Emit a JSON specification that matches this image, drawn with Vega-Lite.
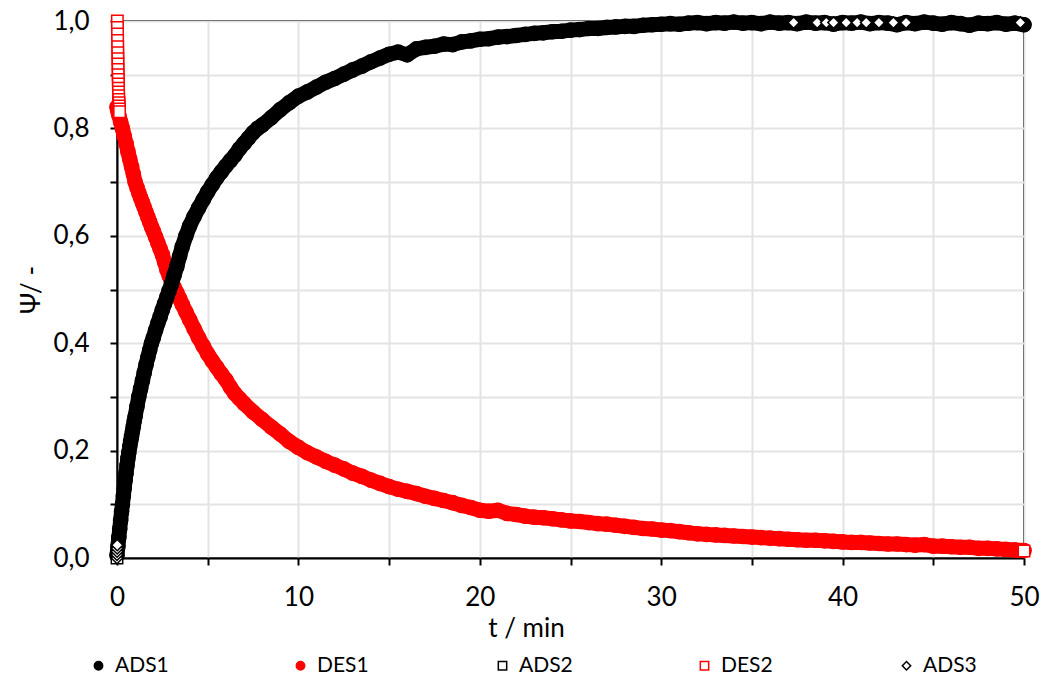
{
  "$schema": "https://vega.github.io/schema/vega-lite/v6.json",
  "width": 907,
  "height": 537,
  "autosize": {"type": "none"},
  "padding": {"left": 117, "top": 21, "right": 20, "bottom": 123},
  "background": "white",
  "datasets": {
    "des1": [
      {"series":"DES1","t":0,"psi":0.84},{"series":"DES1","t":0.05,"psi":0.832},{"series":"DES1","t":0.1,"psi":0.825},{"series":"DES1","t":0.2,"psi":0.812},{"series":"DES1","t":0.3,"psi":0.8},{"series":"DES1","t":0.4,"psi":0.786},{"series":"DES1","t":0.5,"psi":0.772},{"series":"DES1","t":0.6,"psi":0.757},{"series":"DES1","t":0.7,"psi":0.743},{"series":"DES1","t":0.8,"psi":0.729},{"series":"DES1","t":0.9,"psi":0.715},{"series":"DES1","t":1.0,"psi":0.7},{"series":"DES1","t":1.1,"psi":0.69},{"series":"DES1","t":1.2,"psi":0.68},{"series":"DES1","t":1.3,"psi":0.671},{"series":"DES1","t":1.4,"psi":0.662},{"series":"DES1","t":1.5,"psi":0.653},{"series":"DES1","t":1.6,"psi":0.644},{"series":"DES1","t":1.7,"psi":0.635},{"series":"DES1","t":1.8,"psi":0.626},{"series":"DES1","t":1.9,"psi":0.617},{"series":"DES1","t":2.0,"psi":0.609},{"series":"DES1","t":2.125,"psi":0.598},{"series":"DES1","t":2.25,"psi":0.587},{"series":"DES1","t":2.375,"psi":0.576},{"series":"DES1","t":2.5,"psi":0.565},{"series":"DES1","t":2.625,"psi":0.551},{"series":"DES1","t":2.75,"psi":0.537},{"series":"DES1","t":2.875,"psi":0.526},{"series":"DES1","t":3.0,"psi":0.515},{"series":"DES1","t":3.15,"psi":0.504},{"series":"DES1","t":3.3,"psi":0.494},{"series":"DES1","t":3.45,"psi":0.483},{"series":"DES1","t":3.6,"psi":0.472},{"series":"DES1","t":3.8,"psi":0.458},{"series":"DES1","t":4.0,"psi":0.444},{"series":"DES1","t":4.25,"psi":0.427},{"series":"DES1","t":4.5,"psi":0.41},{"series":"DES1","t":4.75,"psi":0.395},{"series":"DES1","t":5.0,"psi":0.38},{"series":"DES1","t":5.25,"psi":0.367},{"series":"DES1","t":5.5,"psi":0.355},{"series":"DES1","t":5.75,"psi":0.343},{"series":"DES1","t":6.0,"psi":0.332},{"series":"DES1","t":6.25,"psi":0.318},{"series":"DES1","t":6.5,"psi":0.306},{"series":"DES1","t":6.75,"psi":0.297},{"series":"DES1","t":7.0,"psi":0.288},{"series":"DES1","t":7.5,"psi":0.272},{"series":"DES1","t":8.0,"psi":0.258},{"series":"DES1","t":8.5,"psi":0.244},{"series":"DES1","t":9.0,"psi":0.231},{"series":"DES1","t":9.5,"psi":0.217},{"series":"DES1","t":10,"psi":0.206},{"series":"DES1","t":10.5,"psi":0.196},{"series":"DES1","t":11,"psi":0.188},{"series":"DES1","t":11.5,"psi":0.18},{"series":"DES1","t":12,"psi":0.173},{"series":"DES1","t":12.5,"psi":0.166},{"series":"DES1","t":13,"psi":0.158},{"series":"DES1","t":13.5,"psi":0.152},{"series":"DES1","t":14,"psi":0.145},{"series":"DES1","t":14.5,"psi":0.139},{"series":"DES1","t":15,"psi":0.133},{"series":"DES1","t":15.5,"psi":0.128},{"series":"DES1","t":16,"psi":0.124},{"series":"DES1","t":16.5,"psi":0.12},{"series":"DES1","t":17,"psi":0.115},{"series":"DES1","t":17.5,"psi":0.111},{"series":"DES1","t":18,"psi":0.107},{"series":"DES1","t":18.5,"psi":0.103},{"series":"DES1","t":19,"psi":0.098},{"series":"DES1","t":19.5,"psi":0.094},{"series":"DES1","t":20,"psi":0.089},{"series":"DES1","t":20.5,"psi":0.087},{"series":"DES1","t":21,"psi":0.089},{"series":"DES1","t":21.5,"psi":0.083},{"series":"DES1","t":22,"psi":0.081},{"series":"DES1","t":22.5,"psi":0.078},{"series":"DES1","t":23,"psi":0.076},{"series":"DES1","t":23.5,"psi":0.075},{"series":"DES1","t":24,"psi":0.073},{"series":"DES1","t":24.5,"psi":0.071},{"series":"DES1","t":25,"psi":0.069},{"series":"DES1","t":25.5,"psi":0.068},{"series":"DES1","t":26,"psi":0.066},{"series":"DES1","t":26.5,"psi":0.064},{"series":"DES1","t":27,"psi":0.063},{"series":"DES1","t":27.5,"psi":0.061},{"series":"DES1","t":28,"psi":0.059},{"series":"DES1","t":28.5,"psi":0.057},{"series":"DES1","t":29,"psi":0.055},{"series":"DES1","t":29.5,"psi":0.054},{"series":"DES1","t":30,"psi":0.052},{"series":"DES1","t":30.5,"psi":0.051},{"series":"DES1","t":31,"psi":0.049},{"series":"DES1","t":31.5,"psi":0.047},{"series":"DES1","t":32,"psi":0.045},{"series":"DES1","t":32.5,"psi":0.044},{"series":"DES1","t":33,"psi":0.043},{"series":"DES1","t":33.5,"psi":0.042},{"series":"DES1","t":34,"psi":0.041},{"series":"DES1","t":34.5,"psi":0.04},{"series":"DES1","t":35,"psi":0.039},{"series":"DES1","t":35.5,"psi":0.038},{"series":"DES1","t":36,"psi":0.037},{"series":"DES1","t":36.5,"psi":0.036},{"series":"DES1","t":37,"psi":0.035},{"series":"DES1","t":37.5,"psi":0.034},{"series":"DES1","t":38,"psi":0.033},{"series":"DES1","t":38.5,"psi":0.033},{"series":"DES1","t":39,"psi":0.032},{"series":"DES1","t":39.5,"psi":0.031},{"series":"DES1","t":40,"psi":0.03},{"series":"DES1","t":40.5,"psi":0.029},{"series":"DES1","t":41,"psi":0.029},{"series":"DES1","t":41.5,"psi":0.028},{"series":"DES1","t":42,"psi":0.027},{"series":"DES1","t":42.5,"psi":0.026},{"series":"DES1","t":43,"psi":0.026},{"series":"DES1","t":43.5,"psi":0.025},{"series":"DES1","t":44,"psi":0.024},{"series":"DES1","t":44.5,"psi":0.025},{"series":"DES1","t":45,"psi":0.022},{"series":"DES1","t":45.5,"psi":0.022},{"series":"DES1","t":46,"psi":0.021},{"series":"DES1","t":46.5,"psi":0.02},{"series":"DES1","t":47,"psi":0.02},{"series":"DES1","t":47.5,"psi":0.018},{"series":"DES1","t":48,"psi":0.018},{"series":"DES1","t":48.5,"psi":0.017},{"series":"DES1","t":49,"psi":0.016},{"series":"DES1","t":49.5,"psi":0.015},{"series":"DES1","t":50,"psi":0.014}
    ],
    "others": [
      {"series":"ADS1","t":0,"psi":0.005},{"series":"ADS1","t":0.05,"psi":0.022},{"series":"ADS1","t":0.1,"psi":0.038},{"series":"ADS1","t":0.15,"psi":0.054},{"series":"ADS1","t":0.2,"psi":0.07},{"series":"ADS1","t":0.25,"psi":0.086},{"series":"ADS1","t":0.3,"psi":0.1},{"series":"ADS1","t":0.35,"psi":0.116},{"series":"ADS1","t":0.4,"psi":0.13},{"series":"ADS1","t":0.45,"psi":0.145},{"series":"ADS1","t":0.5,"psi":0.158},{"series":"ADS1","t":0.55,"psi":0.172},{"series":"ADS1","t":0.6,"psi":0.185},{"series":"ADS1","t":0.65,"psi":0.196},{"series":"ADS1","t":0.7,"psi":0.207},{"series":"ADS1","t":0.75,"psi":0.217},{"series":"ADS1","t":0.8,"psi":0.226},{"series":"ADS1","t":0.85,"psi":0.236},{"series":"ADS1","t":0.9,"psi":0.245},{"series":"ADS1","t":0.95,"psi":0.255},{"series":"ADS1","t":1.0,"psi":0.264},{"series":"ADS1","t":1.1,"psi":0.282},{"series":"ADS1","t":1.2,"psi":0.3},{"series":"ADS1","t":1.3,"psi":0.315},{"series":"ADS1","t":1.4,"psi":0.33},{"series":"ADS1","t":1.5,"psi":0.345},{"series":"ADS1","t":1.6,"psi":0.36},{"series":"ADS1","t":1.7,"psi":0.374},{"series":"ADS1","t":1.8,"psi":0.387},{"series":"ADS1","t":1.9,"psi":0.4},{"series":"ADS1","t":2.0,"psi":0.41},{"series":"ADS1","t":2.125,"psi":0.424},{"series":"ADS1","t":2.25,"psi":0.437},{"series":"ADS1","t":2.375,"psi":0.449},{"series":"ADS1","t":2.5,"psi":0.462},{"series":"ADS1","t":2.625,"psi":0.474},{"series":"ADS1","t":2.75,"psi":0.486},{"series":"ADS1","t":2.875,"psi":0.498},{"series":"ADS1","t":3.0,"psi":0.51},{"series":"ADS1","t":3.15,"psi":0.527},{"series":"ADS1","t":3.3,"psi":0.543},{"series":"ADS1","t":3.45,"psi":0.562},{"series":"ADS1","t":3.6,"psi":0.58},{"series":"ADS1","t":3.8,"psi":0.6},{"series":"ADS1","t":4.0,"psi":0.618},{"series":"ADS1","t":4.25,"psi":0.636},{"series":"ADS1","t":4.5,"psi":0.652},{"series":"ADS1","t":4.75,"psi":0.667},{"series":"ADS1","t":5.0,"psi":0.682},{"series":"ADS1","t":5.25,"psi":0.695},{"series":"ADS1","t":5.5,"psi":0.708},{"series":"ADS1","t":5.75,"psi":0.719},{"series":"ADS1","t":6.0,"psi":0.73},{"series":"ADS1","t":6.25,"psi":0.74},{"series":"ADS1","t":6.5,"psi":0.75},{"series":"ADS1","t":6.75,"psi":0.762},{"series":"ADS1","t":7.0,"psi":0.772},{"series":"ADS1","t":7.25,"psi":0.782},{"series":"ADS1","t":7.5,"psi":0.792},{"series":"ADS1","t":7.75,"psi":0.8},{"series":"ADS1","t":8.0,"psi":0.806},{"series":"ADS1","t":8.5,"psi":0.82},{"series":"ADS1","t":9.0,"psi":0.835},{"series":"ADS1","t":9.5,"psi":0.848},{"series":"ADS1","t":10,"psi":0.86},{"series":"ADS1","t":10.5,"psi":0.868},{"series":"ADS1","t":11,"psi":0.877},{"series":"ADS1","t":11.5,"psi":0.886},{"series":"ADS1","t":12,"psi":0.893},{"series":"ADS1","t":12.5,"psi":0.901},{"series":"ADS1","t":13,"psi":0.909},{"series":"ADS1","t":13.5,"psi":0.916},{"series":"ADS1","t":14,"psi":0.924},{"series":"ADS1","t":14.5,"psi":0.931},{"series":"ADS1","t":15,"psi":0.938},{"series":"ADS1","t":15.5,"psi":0.942},{"series":"ADS1","t":16,"psi":0.937},{"series":"ADS1","t":16.5,"psi":0.948},{"series":"ADS1","t":17,"psi":0.951},{"series":"ADS1","t":17.5,"psi":0.953},{"series":"ADS1","t":18,"psi":0.957},{"series":"ADS1","t":18.5,"psi":0.956},{"series":"ADS1","t":19,"psi":0.961},{"series":"ADS1","t":19.5,"psi":0.963},{"series":"ADS1","t":20,"psi":0.966},{"series":"ADS1","t":20.5,"psi":0.967},{"series":"ADS1","t":21,"psi":0.97},{"series":"ADS1","t":21.5,"psi":0.971},{"series":"ADS1","t":22,"psi":0.973},{"series":"ADS1","t":22.5,"psi":0.975},{"series":"ADS1","t":23,"psi":0.977},{"series":"ADS1","t":23.5,"psi":0.978},{"series":"ADS1","t":24,"psi":0.98},{"series":"ADS1","t":24.5,"psi":0.981},{"series":"ADS1","t":25,"psi":0.983},{"series":"ADS1","t":25.5,"psi":0.984},{"series":"ADS1","t":26,"psi":0.986},{"series":"ADS1","t":26.5,"psi":0.986},{"series":"ADS1","t":27,"psi":0.988},{"series":"ADS1","t":27.5,"psi":0.989},{"series":"ADS1","t":28,"psi":0.99},{"series":"ADS1","t":28.5,"psi":0.99},{"series":"ADS1","t":29,"psi":0.992},{"series":"ADS1","t":29.5,"psi":0.993},{"series":"ADS1","t":30,"psi":0.994},{"series":"ADS1","t":30.5,"psi":0.995},{"series":"ADS1","t":31,"psi":0.994},{"series":"ADS1","t":31.5,"psi":0.996},{"series":"ADS1","t":32,"psi":0.997},{"series":"ADS1","t":32.5,"psi":0.995},{"series":"ADS1","t":33,"psi":0.997},{"series":"ADS1","t":33.5,"psi":0.996},{"series":"ADS1","t":34,"psi":0.998},{"series":"ADS1","t":34.5,"psi":0.996},{"series":"ADS1","t":35,"psi":0.997},{"series":"ADS1","t":35.5,"psi":0.995},{"series":"ADS1","t":36,"psi":0.998},{"series":"ADS1","t":36.5,"psi":0.996},{"series":"ADS1","t":37,"psi":0.997},{"series":"ADS1","t":37.5,"psi":0.995},{"series":"ADS1","t":38,"psi":0.998},{"series":"ADS1","t":38.5,"psi":0.996},{"series":"ADS1","t":39,"psi":0.997},{"series":"ADS1","t":39.5,"psi":0.994},{"series":"ADS1","t":40,"psi":0.997},{"series":"ADS1","t":40.5,"psi":0.996},{"series":"ADS1","t":41,"psi":0.998},{"series":"ADS1","t":41.5,"psi":0.995},{"series":"ADS1","t":42,"psi":0.997},{"series":"ADS1","t":42.5,"psi":0.996},{"series":"ADS1","t":43,"psi":0.993},{"series":"ADS1","t":43.5,"psi":0.997},{"series":"ADS1","t":44,"psi":0.995},{"series":"ADS1","t":44.5,"psi":0.998},{"series":"ADS1","t":45,"psi":0.996},{"series":"ADS1","t":45.5,"psi":0.994},{"series":"ADS1","t":46,"psi":0.997},{"series":"ADS1","t":46.5,"psi":0.995},{"series":"ADS1","t":47,"psi":0.992},{"series":"ADS1","t":47.5,"psi":0.996},{"series":"ADS1","t":48,"psi":0.995},{"series":"ADS1","t":48.5,"psi":0.997},{"series":"ADS1","t":49,"psi":0.994},{"series":"ADS1","t":49.5,"psi":0.996},{"series":"ADS1","t":50,"psi":0.993},
      {"series":"ADS2","t":0,"psi":0.0},
      {"series":"DES2","t":0.02,"psi":1.0},{"series":"DES2","t":0.025,"psi":0.988},{"series":"DES2","t":0.03,"psi":0.976},{"series":"DES2","t":0.035,"psi":0.964},{"series":"DES2","t":0.04,"psi":0.952},{"series":"DES2","t":0.045,"psi":0.941},{"series":"DES2","t":0.05,"psi":0.93},{"series":"DES2","t":0.055,"psi":0.92},{"series":"DES2","t":0.06,"psi":0.91},{"series":"DES2","t":0.065,"psi":0.9},{"series":"DES2","t":0.07,"psi":0.891},{"series":"DES2","t":0.075,"psi":0.883},{"series":"DES2","t":0.08,"psi":0.875},{"series":"DES2","t":0.085,"psi":0.868},{"series":"DES2","t":0.09,"psi":0.861},{"series":"DES2","t":0.1,"psi":0.854},{"series":"DES2","t":0.11,"psi":0.848},{"series":"DES2","t":0.12,"psi":0.842},{"series":"DES2","t":0.13,"psi":0.836},{"series":"DES2","t":0.14,"psi":0.831},{"series":"DES2","t":50,"psi":0.013},
      {"series":"ADS3","t":0,"psi":0.0},{"series":"ADS3","t":0,"psi":0.006},{"series":"ADS3","t":0.005,"psi":0.012},{"series":"ADS3","t":0.01,"psi":0.018},{"series":"ADS3","t":0.015,"psi":0.024},
      {"series":"ADS3","t":37.3,"psi":0.997},{"series":"ADS3","t":38.6,"psi":0.997},{"series":"ADS3","t":39.1,"psi":0.997},{"series":"ADS3","t":39.5,"psi":0.997},{"series":"ADS3","t":40.2,"psi":0.997},{"series":"ADS3","t":40.8,"psi":0.997},{"series":"ADS3","t":41.3,"psi":0.997},{"series":"ADS3","t":42.0,"psi":0.997},{"series":"ADS3","t":42.8,"psi":0.997},{"series":"ADS3","t":43.5,"psi":0.997},{"series":"ADS3","t":49.8,"psi":0.997}
    ]
  },
  "encoding": {
    "x": {
      "field": "t", "type": "quantitative",
      "scale": {"domain": [0, 50], "nice": false, "zero": false},
      "axis": {
        "title": "t / min",
        "values": [0, 5, 10, 15, 20, 25, 30, 35, 40, 45, 50],
        "labelExpr": "datum.value % 10 == 0 ? datum.label : ''",
        "format": "d",
        "labelPadding": 19,
        "titleX": 409,
        "titleY": 70,
        "titleAlign": "center",
        "titleBaseline": "middle"
      }
    },
    "y": {
      "field": "psi", "type": "quantitative",
      "scale": {"domain": [0, 1], "nice": false},
      "axis": {
        "title": "Ψ/ -",
        "values": [0, 0.1, 0.2, 0.3, 0.4, 0.5, 0.6, 0.7, 0.8, 0.9, 1.0],
        "labelExpr": "round(datum.value * 10) % 2 == 0 ? replace(format(datum.value, '.1f'), '.', ',') : ''",
        "labelPadding": 21,
        "titlePadding": 8
      }
    }
  },
  "layer": [
    {
      "data": {"name": "des1"},
      "mark": {"type": "line", "color": "#ff0000", "strokeWidth": 15, "strokeCap": "round", "strokeJoin": "round"}
    },
    {
      "data": {"name": "des1"},
      "mark": {"type": "point", "filled": true, "opacity": 1, "size": 200, "strokeWidth": 1.5},
      "encoding": {
        "shape": {"field": "series", "type": "nominal",
          "scale": {"domain": ["ADS1", "DES1", "ADS2", "DES2", "ADS3"], "range": ["circle", "circle", "square", "square", "diamond"]},
          "legend": {"title": null, "orient": "none", "legendX": -29, "legendY": 634, "direction": "horizontal", "gridAlign": "all", "symbolSize": 70, "symbolStrokeWidth": 1.5, "labelFontSize": 21, "labelFont": "Lato", "labelColor": "black", "columnPadding": 121, "labelOffset": 6}},
        "fill": {"field": "series", "type": "nominal",
          "scale": {"domain": ["ADS1", "DES1", "ADS2", "DES2", "ADS3"], "range": ["#000000", "#ff0000", "#ffffff", "#ffffff", "#ffffff"]}},
        "stroke": {"field": "series", "type": "nominal",
          "scale": {"domain": ["ADS1", "DES1", "ADS2", "DES2", "ADS3"], "range": ["#000000", "#ff0000", "#000000", "#ff0000", "#000000"]}}
      }
    },
    {
      "data": {"name": "others"},
      "transform": [{"filter": "datum.series == 'ADS1'"}],
      "mark": {"type": "line", "color": "#000000", "strokeWidth": 15, "strokeCap": "round", "strokeJoin": "round"}
    },
    {
      "data": {"name": "others"},
      "mark": {"type": "point", "filled": true, "opacity": 1, "strokeWidth": 1.5},
      "encoding": {
        "size": {"condition": {"test": "datum.series == 'ADS1'", "value": 200}, "value": 130},
        "shape": {"field": "series", "type": "nominal",
          "scale": {"domain": ["ADS1", "DES1", "ADS2", "DES2", "ADS3"], "range": ["circle", "circle", "square", "square", "diamond"]}},
        "fill": {"field": "series", "type": "nominal",
          "scale": {"domain": ["ADS1", "DES1", "ADS2", "DES2", "ADS3"], "range": ["#000000", "#ff0000", "#ffffff", "#ffffff", "#ffffff"]}},
        "stroke": {"field": "series", "type": "nominal",
          "scale": {"domain": ["ADS1", "DES1", "ADS2", "DES2", "ADS3"], "range": ["#000000", "#ff0000", "#000000", "#ff0000", "#000000"]}}
      }
    }
  ],
  "config": {
    "font": "Lato",
    "view": {"stroke": "#000000", "strokeWidth": 2},
    "axis": {
      "labelFont": "Lato", "labelFontSize": 26, "labelColor": "#000000",
      "titleFont": "Lato", "titleFontSize": 26, "titleFontWeight": "normal", "titleColor": "#000000",
      "domainColor": "#000000", "domainWidth": 2,
      "tickColor": "#000000", "tickWidth": 2, "tickSize": 7,
      "gridColor": "#e3e3e3", "gridWidth": 2,
      "labelOverlap": false, "labelBound": false, "labelFlush": false
    }
  }
}
